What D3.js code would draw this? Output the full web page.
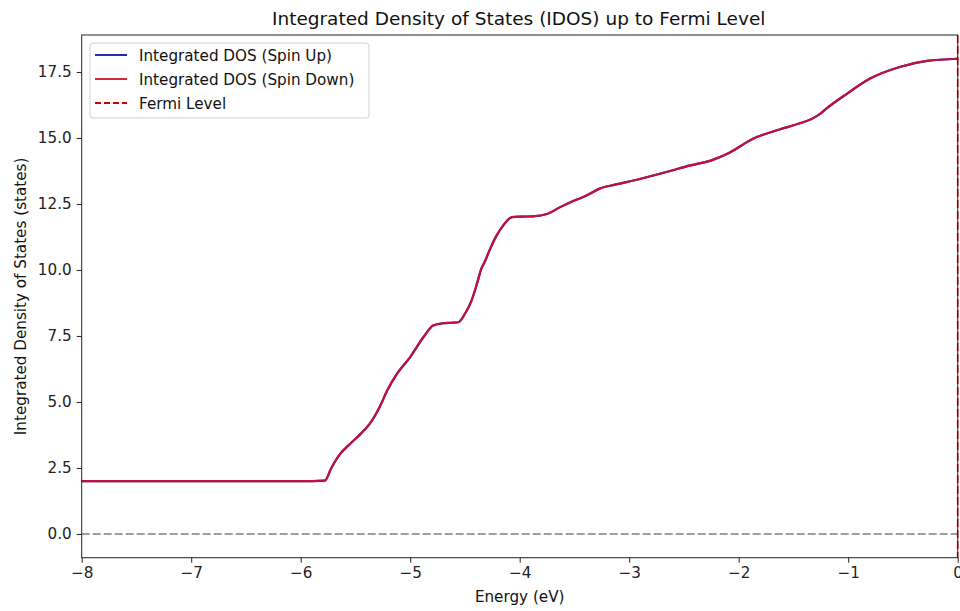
<!DOCTYPE html>
<html>
<head>
<meta charset="utf-8">
<script src="https://cdn.jsdelivr.net/npm/d3@7"></script>
<style>
  body { margin: 0; background: #fff; }
  svg { display: block; font-family: "DejaVu Sans", sans-serif; }
</style>
</head>
<body>
<svg id="chart" width="960" height="611"></svg>
<script>
// Energy grid (eV) and integrated DOS per spin channel (states)
const energy = [-8.0, -7.0, -6.5, -6.0, -5.78, -5.72, -5.64, -5.55, -5.45, -5.37, -5.28, -5.21, -5.12, -5.00, -4.88, -4.79, -4.70, -4.62, -4.56, -4.50, -4.44, -4.39, -4.35, -4.32, -4.27, -4.21, -4.15, -4.07, -3.98, -3.88, -3.75, -3.63, -3.51, -3.39, -3.27, -3.12, -2.96, -2.66, -2.45, -2.23, -2.08, -1.87, -1.62, -1.50, -1.32, -1.26, -1.20, -1.01, -0.80, -0.53, -0.28, 0.0];
const idosUp = [2.0, 2.0, 2.0, 2.0, 2.02, 2.5, 3.03, 3.41, 3.8, 4.17, 4.8, 5.43, 6.07, 6.7, 7.45, 7.9, 7.98, 8.0, 8.02, 8.34, 8.84, 9.48, 10.05, 10.3, 10.8, 11.31, 11.69, 12.0, 12.02, 12.03, 12.12, 12.38, 12.61, 12.82, 13.08, 13.24, 13.39, 13.71, 13.95, 14.18, 14.45, 14.97, 15.33, 15.48, 15.75, 15.90, 16.11, 16.68, 17.25, 17.69, 17.92, 18.0];
const idosDown = [2.0, 2.0, 2.0, 2.0, 2.02, 2.5, 3.03, 3.41, 3.8, 4.17, 4.8, 5.43, 6.07, 6.7, 7.45, 7.9, 7.98, 8.0, 8.02, 8.34, 8.84, 9.48, 10.05, 10.3, 10.8, 11.31, 11.69, 12.0, 12.02, 12.03, 12.12, 12.38, 12.61, 12.82, 13.08, 13.24, 13.39, 13.71, 13.95, 14.18, 14.45, 14.97, 15.33, 15.48, 15.75, 15.90, 16.11, 16.68, 17.25, 17.69, 17.92, 18.0];
const xTicks = [-8, -7, -6, -5, -4, -3, -2, -1, 0];
const yTicks = [0.0, 2.5, 5.0, 7.5, 10.0, 12.5, 15.0, 17.5];
const fermiLevel = 0.0;
const legendLabels = ["Integrated DOS (Spin Up)", "Integrated DOS (Spin Down)", "Fermi Level"];

const svg = d3.select("#chart");
const plotLeft = 81.7, plotRight = 957.7, plotTop = 35, plotBottom = 557.7;
const baseFont = 15.2;

const x = d3.scaleLinear().domain([-8, 0]).range([plotLeft, plotRight]);
const y = d3.scaleLinear().domain([-0.9, 18.9]).range([plotBottom, plotTop]);

const g = svg.append("g");

// zero reference line
g.append("line")
  .attr("x1", plotLeft).attr("x2", plotRight)
  .attr("y1", y(0)).attr("y2", y(0))
  .attr("stroke", "#808080").attr("stroke-width", 1.6)
  .attr("stroke-dasharray", "8,3");

const line = d3.line().x(d => x(d[0])).y(d => y(d[1])).curve(d3.curveMonotoneX);

g.append("path")
  .datum(energy.map((e, i) => [e, idosUp[i]]))
  .attr("d", line).attr("fill", "none")
  .attr("stroke", "#1010b0").attr("stroke-width", 2.2);

g.append("path")
  .datum(energy.map((e, i) => [e, idosDown[i]]))
  .attr("d", line).attr("fill", "none")
  .attr("stroke", "#e0102a").attr("stroke-width", 2.2).attr("stroke-opacity", 0.85);

// Fermi level
g.append("line")
  .attr("x1", x(fermiLevel)).attr("x2", x(fermiLevel))
  .attr("y1", plotTop).attr("y2", plotBottom)
  .attr("stroke", "#d00000").attr("stroke-width", 1.6)
  .attr("stroke-dasharray", "8,3");

// axes
const xAxis = d3.axisBottom(x).tickValues(xTicks).tickSize(5).tickPadding(5)
  .tickFormat(d => d < 0 ? "\u2212" + Math.abs(d) : d);
const yAxis = d3.axisLeft(y).tickValues(yTicks).tickSize(5).tickPadding(5)
  .tickFormat(d3.format(".1f"));

const xa = svg.append("g").attr("transform", `translate(0,${plotBottom})`).call(xAxis);
const ya = svg.append("g").attr("transform", `translate(${plotLeft},0)`).call(yAxis);
[xa, ya].forEach(a => {
  a.select(".domain").remove();
  a.selectAll("text").attr("font-size", baseFont).attr("fill", "#222").attr("font-family", "DejaVu Sans");
  a.selectAll("line").attr("stroke", "#222");
});

// frame
svg.append("rect").attr("x", plotLeft).attr("y", plotTop)
  .attr("width", plotRight - plotLeft).attr("height", plotBottom - plotTop)
  .attr("fill", "none").attr("stroke", "#222").attr("stroke-width", 1);

// title and axis labels
svg.append("text").attr("x", (plotLeft + plotRight) / 2 - 1).attr("y", 25)
  .attr("text-anchor", "middle").attr("font-size", 18.5).attr("fill", "#111")
  .text("Integrated Density of States (IDOS) up to Fermi Level");
svg.append("text").attr("x", (plotLeft + plotRight) / 2).attr("y", 602)
  .attr("text-anchor", "middle").attr("font-size", baseFont).attr("fill", "#111")
  .text("Energy (eV)");
svg.append("text").attr("transform", `translate(26,${(plotTop + plotBottom) / 2}) rotate(-90)`)
  .attr("text-anchor", "middle").attr("font-size", baseFont).attr("fill", "#111")
  .text("Integrated Density of States (states)");

// legend
const lg = svg.append("g");
lg.append("rect").attr("x", 90).attr("y", 43).attr("width", 279).attr("height", 75)
  .attr("rx", 3).attr("fill", "#fff").attr("fill-opacity", 0.8)
  .attr("stroke", "#d0d0d0");
const legendStyles = [
  { color: "#1010b0", dash: null },
  { color: "#d0102a", dash: null },
  { color: "#d00000", dash: "6,3" }
];
legendLabels.forEach((lab, i) => {
  const yy = 55 + i * 24;
  lg.append("line").attr("x1", 95).attr("x2", 127).attr("y1", yy).attr("y2", yy)
    .attr("stroke", legendStyles[i].color).attr("stroke-width", 1.8)
    .attr("stroke-dasharray", legendStyles[i].dash);
  lg.append("text").attr("x", 139).attr("y", yy + 5.5).attr("font-size", baseFont)
    .attr("fill", "#111").text(lab);
});
</script>
</body>
</html>
